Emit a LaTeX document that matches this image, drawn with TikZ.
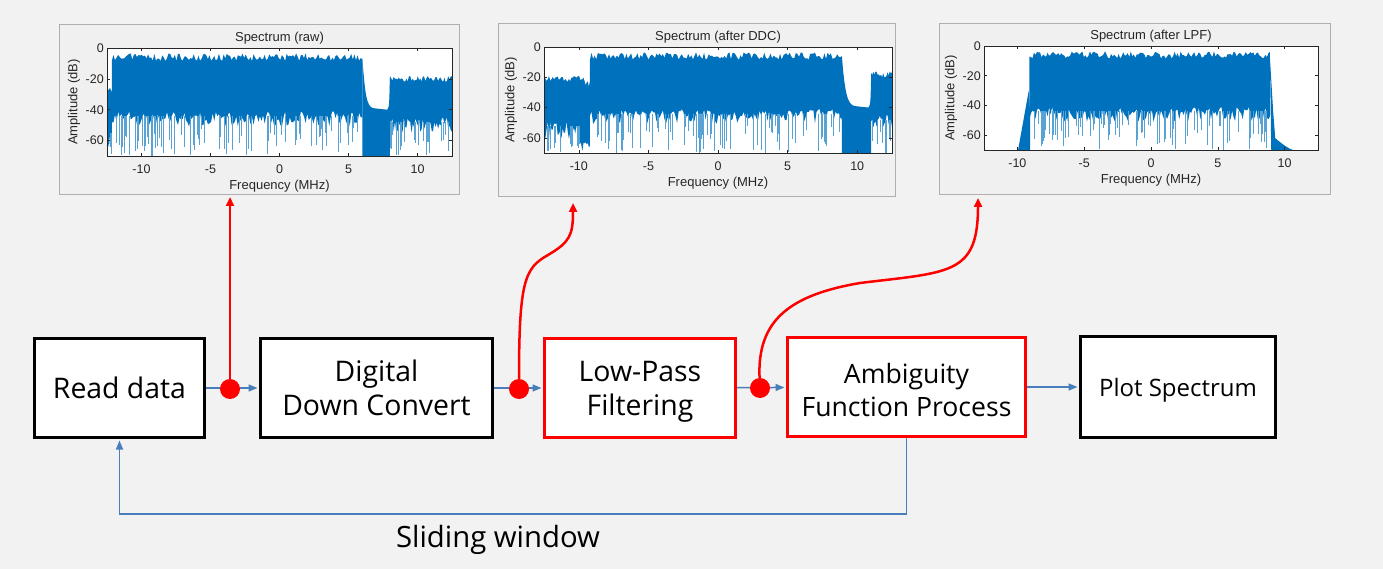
\documentclass[tikz,border=0pt]{standalone}
\usepackage{fontspec}
\setmainfont{Open Sans}
\newfontfamily\plotfont{Liberation Sans}
\usetikzlibrary{arrows.meta}

\definecolor{bggray}{RGB}{242,242,242}
\definecolor{framegray}{RGB}{175,175,175}
\definecolor{framefill}{RGB}{240,240,240}
\definecolor{specblue}{RGB}{0,114,189}
\definecolor{flowblue}{RGB}{74,126,187}
\definecolor{axisgray}{RGB}{38,38,38}

% noisy band of the spectrum: from, to, top, top jitter, bottom, bottom jitter, samples
\newcommand{\specband}[7]{%
  \fill[specblue] plot[domain=#1:#2,samples=#7] (\x,{#3+#4*rand})
    -- plot[domain=#2:#1,samples=#7] (\x,{#5+#6*rand}) -- cycle;}
% thin spikes below a band: from, to, count, top
\newcommand{\specspikes}[4]{%
  \foreach \k in {1,...,#3}{%
    \pgfmathsetmacro\sx{#1+(#2-#1)*rnd}%
    \pgfmathsetmacro\sy{#4-8-(62+(#4))*rnd}%
    \draw[spike] (\sx,#4) -- (\sx,\sy);}}
% axes box, ticks and labels of one spectrum
\newcommand{\specaxes}[1]{%
  \draw[axisline] (-12.5,-70) rectangle (12.5,0);
  \foreach \t in {-10,-5,...,10}{%
    \draw[axisline] (\t,-70) -- ++(0pt,3pt) (\t,0) -- ++(0pt,-3pt);
    \node[ticklab] at ([yshift=-13pt]\t,-70) {\t};}
  \foreach \t in {0,-20,-40,-60}{%
    \draw[axisline] (-12.5,\t) -- ++(3pt,0pt) (12.5,\t) -- ++(-3pt,0pt);
    \node[ticklab,anchor=east] at ([xshift=-3pt]-12.5,\t) {\t};}
  \node[plotlab] at ([yshift=10pt]0,0) {#1};
  \node[plotlab] at ([yshift=-30pt]0,-70) {Frequency (MHz)};
  \node[plotlab,rotate=90] at ([xshift=-33pt]-12.5,-35) {Amplitude (dB)};}
% line without its descender
\newcommand{\nodepth}[1]{\raisebox{0pt}[\height][0pt]{#1}}
% line with a higher top
\newcommand{\hightop}[1]{\raisebox{0pt}[\dimexpr\height+7pt\relax][\depth]{#1}}

\begin{document}
\begin{tikzpicture}[x=1pt, y=-1pt,
    box/.style={draw=black, line width=3pt, fill=white, align=center, inner sep=0pt,
      minimum height=99pt, font=\fontsize{28.4}{34}\selectfont},
    redbox/.style={box, draw=red},
    midtext/.style={font=\fontsize{26.6}{33}\selectfont},
    smalltext/.style={font=\fontsize{24}{31}\selectfont},
    flow/.style={flowblue, line width=1.5pt, shorten >=1.5pt, -{Triangle[length=9pt,width=7pt]}},
    probe/.style={red, line width=2.5pt, -{Triangle[length=9pt,width=8pt]}},
    tap/.style={circle, fill=red, minimum size=20pt, inner sep=0pt},
    plotframe/.style={draw=framegray, fill=framefill, line width=1pt},
    axisline/.style={axisgray, line width=0.6pt},
    ticklab/.style={font=\plotfont\fontsize{12.5}{14}\selectfont, text=axisgray, inner sep=0pt},
    plotlab/.style={font=\plotfont\fontsize{13}{15}\selectfont, text=axisgray, inner sep=0pt},
    spike/.style={specblue!65, line width=0.5pt}]
  \pgfmathsetseed{4242}
  \useasboundingbox (0,0) rectangle (1383,569);
  \fill[bggray] (0,0) rectangle (1383,569);

  % spectrum frames
  \draw[plotframe] (59,25) rectangle (459,195);
  \draw[plotframe] (498,24) rectangle (895,197);
  \draw[plotframe] (939,24) rectangle (1330,195);

  % raw spectrum
  \begin{scope}[shift={(279.5,48)}, x=13.8pt, y=1.543pt]
    \fill[white] (-12.5,-70) rectangle (12.5,0);
    \begin{scope}
      \clip (-12.5,-70) rectangle (12.5,0);
      \specband{-12.5}{-12.15}{-27}{2}{-60}{6}{8}
      \specspikes{-12.5}{-12.15}{4}{-55}
      \specband{-12.15}{6.0}{-6}{2.5}{-46}{5}{160}
      \specspikes{-12.1}{5.9}{90}{-44}
      \fill[specblue] (6.0,-6) .. controls (6.2,-30) and (6.3,-38) .. (6.8,-39)
        -- (7.8,-40) .. controls (7.95,-38) .. (8.0,-20) -- (8.0,-70) -- (6.0,-70) -- cycle;
      \specband{8.0}{12.5}{-20}{2}{-50}{5}{50}
      \specspikes{8.0}{12.4}{25}{-48}
    \end{scope}
    \specaxes{Spectrum (raw)}
  \end{scope}

  % spectrum after DDC
  \begin{scope}[shift={(718,47)}, x=13.92pt, y=1.514pt]
    \fill[white] (-12.5,-70) rectangle (12.5,0);
    \begin{scope}
      \clip (-12.5,-70) rectangle (12.5,0);
      \specband{-12.5}{-9.9}{-21}{2}{-55}{6}{30}
      \specspikes{-12.5}{-9.9}{15}{-52}
      \specband{-9.9}{-9.2}{-23}{3}{-66}{4}{10}
      \specband{-9.2}{8.9}{-6}{2.5}{-46}{5}{160}
      \specspikes{-9.1}{8.8}{90}{-44}
      \fill[specblue] (8.9,-6) .. controls (9.1,-30) and (9.3,-38) .. (9.8,-39)
        -- (10.8,-40) .. controls (10.95,-38) .. (11.0,-20) -- (11.0,-70) -- (8.9,-70) -- cycle;
      \specband{11.0}{12.5}{-18}{2}{-50}{5}{20}
      \specspikes{11.0}{12.4}{10}{-48}
    \end{scope}
    \specaxes{Spectrum (after DDC)}
  \end{scope}

  % spectrum after LPF
  \begin{scope}[shift={(1151,46)}, x=13.36pt, y=1.486pt]
    \fill[white] (-12.5,-70) rectangle (12.5,0);
    \begin{scope}
      \clip (-12.5,-70) rectangle (12.5,0);
      \fill[specblue] (-9.95,-70) -- (-9.15,-30) -- (-9.05,-45) -- (-9.05,-70) -- cycle;
      \specband{-9.1}{8.9}{-6}{2.5}{-46}{5}{160}
      \specspikes{-9.0}{8.8}{90}{-44}
      \fill[specblue] (8.9,-8) -- (9.15,-45) -- (9.3,-62) .. controls (9.8,-66) and (10.3,-69) .. (10.6,-70)
        -- (9.0,-70) -- cycle;
    \end{scope}
    \specaxes{Spectrum (after LPF)}
  \end{scope}

  % processing chain
  \node[box, minimum width=170pt] (read) at (119.5,388) {Read data};
  \node[box, minimum width=232pt] (ddc) at (376.5,388) {Digital\\Down Convert};
  \node[redbox, minimum width=191pt] (lpf) at (640,388) {Low-Pass\\\nodepth{Filtering}};
  \node[redbox, midtext, minimum width=238pt] (afp) at (906.5,387) {\hightop{Ambiguity}\\Function Process};
  \node[box, smalltext, minimum width=195pt, minimum height=101pt] (plot) at (1178,387) {\nodepth{Plot Spectrum}};

  \draw[flow] (read) -- (ddc);
  \draw[flow] (ddc) -- (lpf);
  \draw[flow] (lpf) -- (afp);
  \draw[flow] (afp) -- (plot);
  \draw[flow] (afp.south) -- ++(0,76) -| (read.south);
  \node[font=\fontsize{29.3}{35}\selectfont] (slide) at (498,540) {Sliding window};

  % taps to the spectra
  \node[tap] (t1) at (230,389) {};
  \node[tap] (t2) at (519,389) {};
  \node[tap] (t3) at (760,388) {};
  \coordinate (p1in) at (230,197);
  \coordinate (p2in) at (573,203);
  \coordinate (p3in) at (978,198);
  \draw[probe] (t1) -- (p1in);
  \draw[probe] (t2) .. controls (519,280) and (525,268) .. (548,255)
    .. controls (570,242) and (573,235) .. (p2in);
  \draw[probe] (t3) .. controls (757,320) and (790,295) .. (860,283)
    .. controls (950,272) and (978,275) .. (p3in);
\end{tikzpicture}
\end{document}
